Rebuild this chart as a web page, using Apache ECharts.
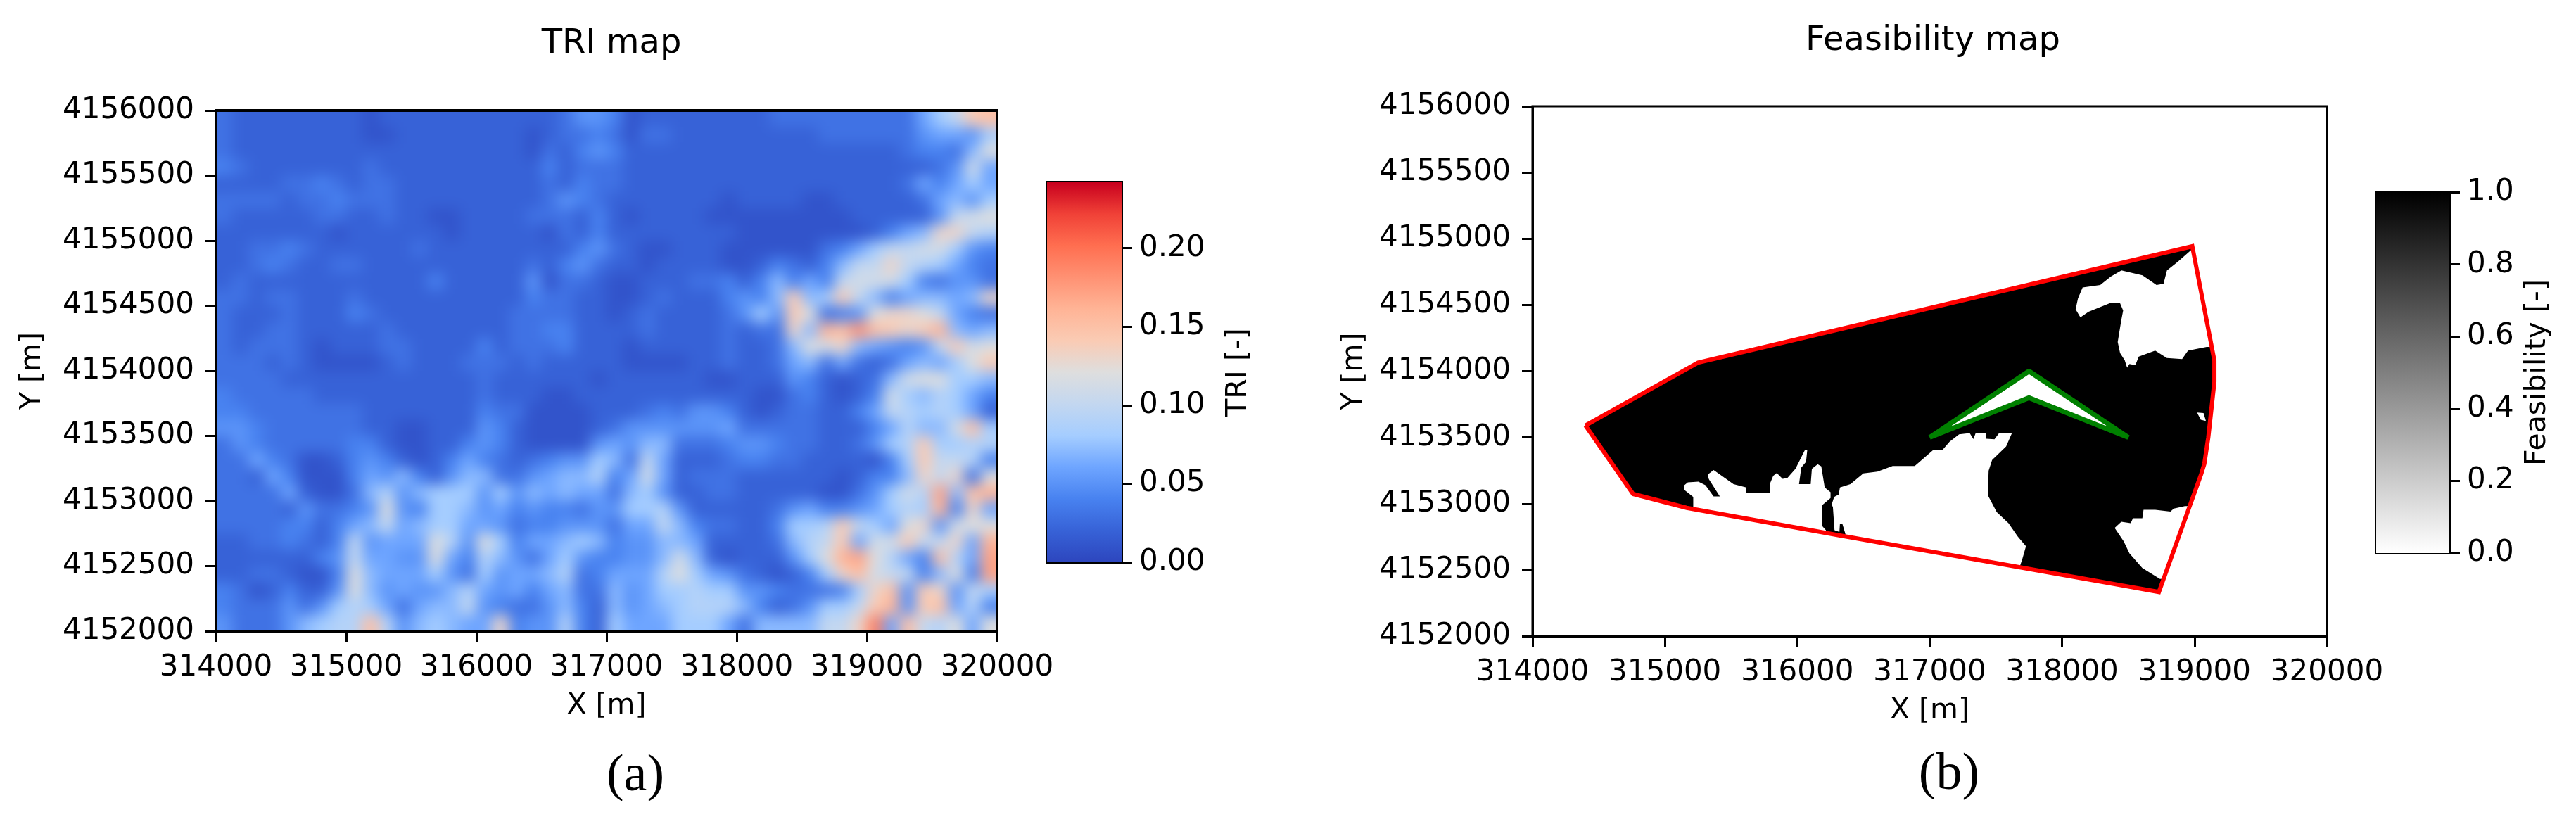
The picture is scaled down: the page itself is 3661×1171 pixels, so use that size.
<!DOCTYPE html>
<html>
<head>
<meta charset="utf-8">
<script src="https://cdn.jsdelivr.net/npm/echarts@6/dist/echarts.min.js"></script>
<style>
html, body { margin: 0; padding: 0; background: #fff; }
#main { width: 3661px; height: 1171px; }
</style>
</head>
<body>
<div id="main"></div>
<script>
var xTicks = [314000, 315000, 316000, 317000, 318000, 319000, 320000];
var yTicks = [4152000, 4152500, 4153000, 4153500, 4154000, 4154500, 4155000, 4155500, 4156000];
var triBarTicks = [0, 0.05, 0.10, 0.15, 0.20];
var feasBarTicks = [0, 0.2, 0.4, 0.6, 0.8, 1.0];

// colour list, evenly spaced from 0 to 0.24
var triColors = ['#2d46be', '#3762d7', '#4882f0', '#6ea5ff', '#a5cdff', '#c3d7f0', '#dedede',
    '#facbb4', '#ffb496', '#ff9173', '#ff6e50', '#f04137', '#c8001e'];
var greyColors = ['#ffffff', '#000000'];

// TRI in hundredths, 125 m cells, top row first
var triRows = [
    [3,2,2,2,2,2,2,2,2,1,2,2,2,2,2,2, 2,2,2,2,2,3,5,5,4,1,2,2,2,2,2,2, 2,2,3,3,3,3,3,3,3,3,3,6,8,10,14,15],
    [3,2,2,2,2,2,2,2,2,1,1,2,2,2,2,2, 2,2,2,1,2,3,3,4,3,1,3,3,2,2,2,2, 2,2,2,2,2,3,3,3,3,3,3,5,6,6,5,8],
    [3,2,2,2,2,2,2,2,2,2,2,2,2,2,2,2, 2,2,2,1,3,2,4,5,4,2,2,2,2,2,2,2, 2,2,2,2,2,2,2,2,2,2,3,4,4,3,7,12],
    [4,3,2,2,2,2,2,2,2,3,2,2,2,2,2,2, 2,2,2,2,4,2,3,3,3,2,2,2,2,2,2,2, 2,2,2,2,2,2,2,2,2,2,2,2,3,5,11,6],
    [2,2,2,2,3,3,4,3,2,3,3,2,2,2,2,2, 2,2,2,2,3,2,4,3,3,2,2,2,2,2,2,2, 2,2,2,2,2,2,2,2,2,2,3,6,4,6,8,6],
    [3,3,3,3,2,3,3,4,3,3,3,2,2,2,2,2, 2,2,2,2,3,5,4,3,2,2,2,2,2,2,2,1, 2,2,2,2,1,1,2,2,2,2,2,3,6,7,5,8],
    [3,2,2,2,2,2,3,3,2,2,3,2,2,1,1,2, 2,2,2,3,3,3,2,4,2,1,2,2,2,2,1,1, 1,1,1,1,1,1,1,2,2,2,2,2,5,10,11,12],
    [2,2,2,2,2,2,2,1,2,2,2,2,2,2,1,2, 2,2,2,2,1,3,2,4,2,2,2,2,2,2,2,2, 1,1,1,1,1,1,1,1,2,4,6,7,13,13,10,9],
    [2,2,3,3,4,3,2,2,2,2,2,2,3,2,2,2, 2,2,2,2,2,2,4,5,3,2,1,1,2,2,2,1, 1,1,1,1,1,3,4,6,8,10,10,11,11,8,5,4],
    [2,2,3,4,3,2,2,3,3,2,2,2,2,2,2,2, 2,2,2,3,2,4,5,3,2,2,1,2,2,2,2,1, 1,2,4,3,2,4,7,10,10,13,10,9,8,6,4,3],
    [2,3,2,2,2,2,2,2,2,2,2,2,2,4,2,2, 2,2,2,5,1,3,3,2,1,1,2,2,2,3,3,4, 2,4,7,4,6,4,10,11,11,11,8,4,3,5,5,3],
    [3,3,2,3,3,2,2,2,3,2,2,2,2,2,2,2, 2,2,2,4,3,3,2,2,1,1,2,3,2,2,2,4, 5,4,7,14,7,8,14,10,7,4,6,7,7,6,7,13],
    [3,2,2,2,3,2,2,2,4,3,2,2,2,2,2,2, 2,2,3,3,3,3,2,2,1,2,3,2,2,2,2,3, 5,8,5,14,12,3,4,5,12,13,13,12,10,6,4,3],
    [3,2,2,3,3,2,2,2,2,2,3,2,2,2,2,2, 2,2,3,3,4,4,2,2,2,2,3,2,2,2,2,3, 2,3,3,13,7,16,15,18,15,14,13,14,16,7,6,7],
    [3,2,3,3,3,2,1,2,2,2,3,3,2,2,2,2, 4,2,3,3,3,4,2,2,2,1,2,2,2,2,2,3, 2,2,3,7,12,11,13,7,6,5,4,5,10,14,11,12],
    [3,3,3,2,3,2,1,1,1,1,2,3,2,2,2,3, 3,3,2,3,2,2,2,2,2,1,1,1,1,2,2,3, 2,2,3,6,7,3,6,3,2,3,6,7,6,8,12,14],
    [3,3,3,3,2,2,2,2,2,2,2,2,2,2,2,2, 3,2,2,2,2,2,2,1,2,2,2,2,2,2,1,1, 2,2,2,5,4,2,1,2,3,7,11,12,12,8,8,7],
    [4,3,3,3,3,3,2,2,2,2,2,2,2,2,2,2, 3,2,2,2,1,1,2,2,2,2,2,2,2,2,2,2, 2,1,1,3,4,2,1,2,4,11,8,7,9,8,6,4],
    [4,4,3,3,3,3,3,3,3,2,2,2,2,2,2,2, 4,3,3,1,1,1,1,2,2,2,3,4,3,5,5,4, 2,1,2,3,3,2,2,4,6,10,9,8,9,8,6,2],
    [5,5,4,3,3,3,3,3,3,2,2,1,1,2,2,2, 5,4,2,1,1,1,1,2,3,5,5,5,5,5,5,6, 3,3,3,3,3,2,2,2,4,6,9,7,7,11,15,8],
    [3,5,4,3,3,3,3,3,4,4,2,1,1,2,2,4, 5,4,2,1,1,1,1,5,6,5,7,7,3,3,3,4, 5,5,4,3,3,2,2,3,5,8,9,14,8,8,9,9],
    [3,3,6,4,3,1,1,2,4,5,4,2,1,2,4,6, 4,3,2,3,4,5,5,8,7,3,10,6,2,2,2,3, 4,4,3,3,2,2,2,2,1,4,8,14,10,10,9,4],
    [3,3,2,6,4,1,1,1,4,6,5,7,4,2,5,7, 7,3,3,5,6,7,7,9,4,6,11,6,2,3,3,3, 2,2,2,2,2,2,1,2,4,4,7,13,10,13,3,12],
    [3,3,3,3,6,2,1,1,3,7,9,5,7,8,8,8, 5,8,5,7,6,7,6,6,3,7,8,5,2,2,3,3, 2,2,2,2,2,1,1,3,5,8,11,9,17,7,15,16],
    [3,3,3,3,2,5,3,3,4,5,12,5,4,8,8,7, 5,6,4,5,4,4,3,5,5,8,8,9,5,2,2,2, 2,2,3,5,6,4,4,5,6,8,9,8,16,4,13,6],
    [3,3,3,3,4,4,2,4,6,7,10,6,7,8,8,6, 6,5,3,4,4,5,5,5,3,6,6,10,7,4,3,3, 2,2,4,8,8,9,14,10,8,6,12,13,5,11,12,12],
    [2,2,3,3,4,3,2,4,10,5,6,6,6,12,9,5, 12,8,4,6,6,7,8,7,4,5,5,7,7,6,2,2, 2,2,3,7,9,10,14,6,11,11,14,10,10,13,6,16],
    [2,2,2,2,2,2,4,5,10,6,6,5,5,12,6,4, 9,7,5,3,6,8,5,4,4,5,5,7,11,7,2,1, 2,2,2,5,8,12,16,17,12,9,6,4,15,9,6,17],
    [2,2,3,3,2,1,1,4,12,7,6,6,6,8,5,3, 8,5,6,6,7,9,3,4,6,6,6,9,12,8,6,5, 3,2,1,2,4,8,13,15,11,10,10,4,7,12,4,17],
    [4,3,1,2,4,2,2,5,12,7,5,6,5,5,7,9, 6,5,6,4,6,7,3,3,7,5,6,8,8,9,8,8, 5,5,4,3,3,3,4,8,13,15,5,14,13,5,10,8],
    [4,3,3,3,5,3,5,8,9,8,6,3,6,7,7,10, 5,4,3,3,5,7,4,2,7,5,6,7,8,9,9,9, 7,4,2,3,5,8,8,10,14,16,5,14,15,6,9,4],
    [5,3,3,3,5,7,8,9,9,15,9,5,7,8,7,6, 6,13,4,5,5,9,4,2,8,6,6,6,8,8,8,6, 3,7,7,7,7,10,10,13,19,6,15,10,9,12,6,12]
];

// site boundary and chevron
var boundary = [[314400,4153590],[315250,4154065],[318983,4154943],[319150,4154080],[319150,4153920],[319104,4153500],
    [319074,4153300],[319051,4153225],[318731,4152333],[318450,4152383],[317690,4152518],[316330,4152758],[315165,4152968],[314760,4153073],[314400,4153590]];
var chevron = [[317000,4153500],[317750,4154000],[318500,4153500],[317750,4153800],[317000,4153500]];

// infeasible (white) patches inside the boundary
var holeWest = [[315214,4152945],[315214,4153051],[315147,4153104],[315147,4153139],[315173,4153161],[315253,4153166],[315306,4153139],
    [315368,4153055],[315415,4153055],[315332,4153184],[315323,4153219],[315368,4153254],[315518,4153148],[315615,4153122],[315615,4153078],
    [315792,4153078],[315792,4153148],[315818,4153210],[315845,4153231],[315889,4153187],[315924,4153192],[315986,4153263],[316057,4153404],
    [316075,4153404],[316066,4153316],[316030,4153272],[316013,4153148],[316101,4153148],[316110,4153263],[316154,4153298],[316181,4153281],
    [316207,4153122],[316251,4153086],[316251,4153042],[316189,4152990],[316189,4152830],[316216,4152800],[316216,4152733]];
var holeSouth = [[316363,4152716],[316363,4152772],[316340,4152848],[316322,4152848],[316318,4152786],[316281,4152800],[316269,4152972],
    [316260,4152995],[316278,4153051],[316313,4153069],[316322,4153122],[316401,4153148],[316499,4153228],[316605,4153242],[316720,4153284],
    [316887,4153284],[317025,4153404],[317095,4153404],[317150,4153468],[317222,4153523],[317302,4153532],[317330,4153487],[317347,4153532],
    [317427,4153532],[317427,4153490],[317489,4153486],[317524,4153532],[317621,4153532],[317577,4153431],[317471,4153330],[317445,4153248],
    [317439,4153064],[317506,4152936],[317595,4152853],[317665,4152752],[317727,4152679],[317701,4152587],[317683,4152532],[317683,4152459]];
var holeNorth = [[318978,4154917],[318872,4154825],[318792,4154761],[318766,4154660],[318713,4154651],[318607,4154724],[318448,4154761],
    [318368,4154715],[318288,4154651],[318155,4154632],[318120,4154550],[318102,4154467],[318138,4154407],[318200,4154449],[318359,4154513],
    [318438,4154513],[318461,4154458],[318447,4154385],[318420,4154220],[318438,4154137],[318473,4154082],[318491,4154027],[318509,4154055],
    [318553,4154045],[318579,4154110],[318703,4154155],[318791,4154100],[318906,4154091],[318951,4154155],[319092,4154183],[319260,4154183],[319084,4154935]];
var holeEast = [[318928,4152982],[318844,4152963],[318818,4152940],[318703,4152954],[318615,4152954],[318606,4152890],[318535,4152890],
    [318518,4152853],[318447,4152863],[318397,4152817],[318465,4152716],[318509,4152624],[318606,4152514],[318739,4152431],[318906,4152441],[319083,4152982]];
var holeSpeck = [[319019,4153688],[319068,4153684],[319086,4153624],[319047,4153633]];
var holes = [holeWest, holeSouth, holeNorth, holeEast, holeSpeck, chevron];

var CELL = 125;
var xMin = xTicks[0], xMax = xTicks[xTicks.length - 1];
var yMin = yTicks[0], yMax = yTicks[yTicks.length - 1];
var triData = [];
for (var r = 0; r < triRows.length; r++) {
    for (var c = 0; c < triRows[r].length; c++) {
        triData.push([xMin + c * CELL, yMax - (r + 1) * CELL, triRows[r][c] / 100]);
    }
}

var FONT = 'DejaVu Sans';
var BLEED = 40; // edge cells run past the frame so the blur does not fade at the border

function rawNum(v) { return String(v); }

function plotX(gridIndex, lineW) {
    return {
        type: 'value', gridIndex: gridIndex, zlevel: 1, min: xMin, max: xMax, interval: 1000,
        name: 'X [m]', nameLocation: 'middle', nameGap: 86,
        nameTextStyle: { fontFamily: FONT, fontSize: 41, color: '#000' },
        axisLine: { show: true, lineStyle: { color: '#000', width: lineW } },
        axisTick: { show: true, length: 15, lineStyle: { color: '#000', width: 3 } },
        axisLabel: { fontFamily: FONT, fontSize: 42, color: '#000', margin: 31, formatter: rawNum, hideOverlap: false },
        splitLine: { show: false }
    };
}

function plotY(gridIndex, lineW, gap) {
    return {
        type: 'value', gridIndex: gridIndex, zlevel: 1, min: yMin, max: yMax, interval: 500,
        name: 'Y [m]', nameLocation: 'middle', nameGap: gap,
        nameTextStyle: { fontFamily: FONT, fontSize: 41, color: '#000' },
        axisLine: { show: true, lineStyle: { color: '#000', width: lineW } },
        axisTick: { show: true, length: 15, lineStyle: { color: '#000', width: 3 } },
        axisLabel: { fontFamily: FONT, fontSize: 42, color: '#000', margin: 31, formatter: rawNum, hideOverlap: false },
        splitLine: { show: false }
    };
}

function barX(gridIndex) {
    return { type: 'value', gridIndex: gridIndex, zlevel: 1, min: 0, max: 1, show: false };
}

function barY(gridIndex, max, ticks, digits, name, gap, lineW) {
    return {
        type: 'value', gridIndex: gridIndex, zlevel: 1, position: 'right', min: 0, max: max,
        name: name, nameLocation: 'middle', nameGap: gap, nameRotate: 90,
        nameTextStyle: { fontFamily: FONT, fontSize: 41, color: '#000' },
        axisLine: { show: true, onZero: false, lineStyle: { color: '#000', width: lineW } },
        axisTick: { show: true, length: 15, customValues: ticks, lineStyle: { color: '#000', width: 3 } },
        axisLabel: {
            fontFamily: FONT, fontSize: 42, color: '#000', margin: 25, customValues: ticks, hideOverlap: false,
            formatter: function (v) { return v.toFixed(digits); }
        },
        splitLine: { show: false }
    };
}

function gradientStops(colors) {
    return colors.map(function (col, i) { return { offset: i / (colors.length - 1), color: col }; });
}

function barSeries(gridIndex, max, colors) {
    return {
        type: 'custom', xAxisIndex: gridIndex, yAxisIndex: gridIndex, zlevel: 1, silent: true,
        data: [[0, 0, 1, max]],
        renderItem: function (params, api) {
            var a = api.coord([api.value(0), api.value(1)]);
            var b = api.coord([api.value(2), api.value(3)]);
            return {
                type: 'rect',
                shape: { x: a[0], y: b[1], width: b[0] - a[0], height: a[1] - b[1] },
                style: { fill: new echarts.graphic.LinearGradient(0, 1, 0, 0, gradientStops(colors)) }
            };
        }
    };
}

function polygonSeries(polys, color) {
    return {
        type: 'custom', xAxisIndex: 1, yAxisIndex: 1, zlevel: 1, silent: true,
        data: polys.map(function (p, i) { return [p[0][0], p[0][1], i]; }),
        renderItem: function (params, api) {
            return {
                type: 'polygon',
                shape: { points: polys[params.dataIndex].map(function (pt) { return api.coord(pt); }) },
                style: { fill: color }
            };
        }
    };
}

function title(text, x, y, size, family) {
    return {
        text: text, left: x, top: y, textAlign: 'center', textVerticalAlign: 'middle', zlevel: 1,
        textStyle: { fontFamily: family, fontSize: size, fontWeight: 'normal', color: '#000' }
    };
}

var option = {
    animation: false,
    backgroundColor: 'transparent',
    title: [
        title('TRI map', 864, 58, 48, FONT),
        title('Feasibility map', 2742, 54, 48, FONT),
        title('(a)', 898, 1099, 74, 'Liberation Serif'),
        title('(b)', 2765, 1097, 74, 'Liberation Serif')
    ],
    grid: [
        { left: 307, top: 157, width: 1110, height: 740, show: true, zlevel: 1, borderColor: '#000', borderWidth: 4, backgroundColor: 'transparent' },
        { left: 2178, top: 151, width: 1129, height: 753, show: true, zlevel: 1, borderColor: '#000', borderWidth: 3, backgroundColor: 'transparent' },
        { left: 1488, top: 259, width: 106, height: 540, show: true, zlevel: 1, borderColor: '#000', borderWidth: 4, backgroundColor: 'transparent' },
        { left: 3377, top: 273, width: 104, height: 513, show: true, zlevel: 1, borderColor: '#000', borderWidth: 3, backgroundColor: 'transparent' }
    ],
    xAxis: [plotX(0, 4), plotX(1, 3), barX(2), barX(3)],
    yAxis: [
        plotY(0, 4, 240),
        plotY(1, 3, 233),
        barY(2, 0.242, triBarTicks, 2, 'TRI [-]', 146, 4),
        barY(3, 1, feasBarTicks, 1, 'Feasibility [-]', 105, 3)
    ],
    visualMap: [{
        show: false, type: 'continuous', seriesIndex: 0, dimension: 2, min: 0, max: 0.24,
        inRange: { color: triColors }
    }],
    series: [
        {
            type: 'custom', xAxisIndex: 0, yAxisIndex: 0, zlevel: 0, silent: true,
            data: triData,
            encode: { x: 0, y: 1 },
            renderItem: function (params, api) {
                var cx = api.value(0), cy = api.value(1);
                var a = api.coord([cx, cy]);
                var b = api.coord([cx + CELL, cy + CELL]);
                var x0 = a[0] - (cx === xMin ? BLEED : 0);
                var x1 = b[0] + (cx + CELL === xMax ? BLEED : 1);
                var y0 = b[1] - (cy + CELL === yMax ? BLEED : 0);
                var y1 = a[1] + (cy === yMin ? BLEED : 1);
                return {
                    type: 'rect',
                    shape: { x: x0, y: y0, width: x1 - x0, height: y1 - y0 },
                    style: { fill: api.visual('color') }
                };
            }
        },
        polygonSeries([boundary], '#000'),
        polygonSeries(holes, '#fff'),
        {
            type: 'line', xAxisIndex: 1, yAxisIndex: 1, zlevel: 1, data: boundary, showSymbol: false, silent: true,
            lineStyle: { color: '#ff0000', width: 6, join: 'miter' }
        },
        {
            type: 'line', xAxisIndex: 1, yAxisIndex: 1, zlevel: 1, data: chevron, showSymbol: false, silent: true,
            lineStyle: { color: '#008000', width: 7 }
        },
        barSeries(2, 0.242, triColors),
        barSeries(3, 1, greyColors)
    ]
};

var chart = echarts.init(document.getElementById('main'), null, { renderer: 'canvas' });
chart.setOption(option);

// soften the map cells, only the map layer sits on the first canvas
var mapLayer = document.querySelectorAll('#main canvas')[0];
mapLayer.style.filter = 'blur(10px)';
mapLayer.style.clipPath = 'inset(157px 2244px 274px 307px)';
</script>
</body>
</html>
